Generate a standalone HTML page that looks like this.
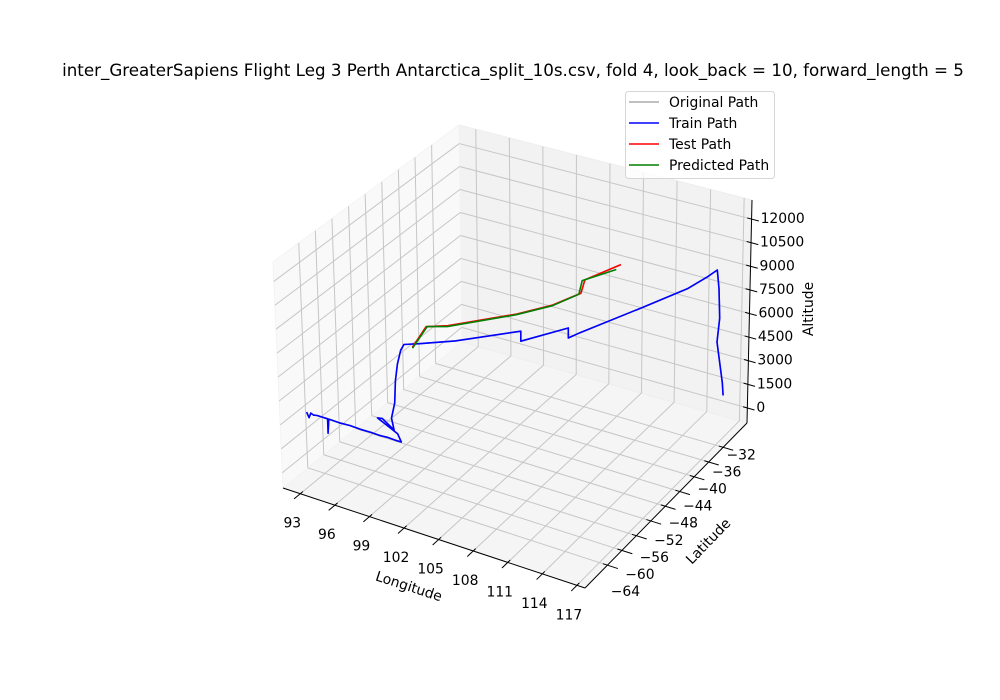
<!DOCTYPE html>
<html><head><meta charset="utf-8"><title>3D flight path</title>
<style>
html,body{margin:0;padding:0;background:#fff;}
svg{display:block;font-family:"DejaVu Sans","Liberation Sans",sans-serif;}
</style></head>
<body>
<svg id="chart" width="1000" height="700" viewBox="0 0 1000 700" xmlns="http://www.w3.org/2000/svg">
<rect width="1000" height="700" fill="#fff"/>
<text x="513" y="76" font-size="16.7" text-anchor="middle" fill="#000">inter_GreaterSapiens Flight Leg 3 Perth Antarctica_split_10s.csv, fold 4, look_back = 10, forward_length = 5</text>
<g id="panes"></g>
<g id="grid"></g>
<g id="axes"></g>
<g id="series"></g>
<g id="labels"></g>
<text x="409" y="591" font-size="13.9" text-anchor="middle" transform="rotate(18 409 586)">Longitude</text>
<text x="708" y="546" font-size="13.9" text-anchor="middle" transform="rotate(-46 708 541)">Latitude</text>
<text x="808" y="314" font-size="13.9" text-anchor="middle" transform="rotate(-90 808 309)">Altitude</text>
<g>
<rect x="625.5" y="91.5" width="149" height="87" rx="3" fill="#fff" fill-opacity="0.8" stroke="#d6d6d6"/>
<g><line x1="629" y1="102" x2="659" y2="102" stroke="#aaaaaa" stroke-width="1.5"/><text x="669" y="107" font-size="13.9">Original Path</text></g>
<g><line x1="629" y1="123" x2="659" y2="123" stroke="#0000ff" stroke-width="1.5"/><text x="669" y="128" font-size="13.9">Train Path</text></g>
<g><line x1="629" y1="144" x2="659" y2="144" stroke="#ff0000" stroke-width="1.5"/><text x="669" y="149" font-size="13.9">Test Path</text></g>
<g><line x1="629" y1="165" x2="659" y2="165" stroke="#008000" stroke-width="1.5"/><text x="669" y="170" font-size="13.9">Predicted Path</text></g>
</g>
</svg>
<script>
// ---- data ----
const lonTicks = [93, 96, 99, 102, 105, 108, 111, 114, 117];
const latTicks = [-64, -60, -56, -52, -48, -44, -40, -36, -32];
const altTicks = [0, 1500, 3000, 4500, 6000, 7500, 9000, 10500, 12000];
const lonRange = [91.5, 117.7];
const latRange = [-70.2, -25.4];
const altRange = [-956, 13212];

const trainLon = [93.4, 93.6, 93.8, 94.0, 94.3, 95.2, 95.2, 95.3, 96.2, 97.1, 98.0, 98.9, 99.6, 100.3, 101.0, 101.5,
  101.2, 99.5, 99.9, 100.9, 100.7, 101.0, 101.1, 101.3, 101.6, 101.85,
  102.74, 104.78, 108.22, 108.22, 110.34, 110.34, 110.73, 113.5, 115.5, 116.2, 116.5,
  116.55, 116.6, 116.5, 116.7, 116.7];
const trainLat = [-69.0, -69.0, -69.1, -69.0, -69.0, -69.0, -69.0, -69.0, -69.0, -69.0, -69.0, -69.0, -69.0, -69.0, -69.0, -69.0,
  -69.0, -69.0, -69.0, -69.0, -69.0, -69.0, -69.0, -69.0, -69.0, -68.9,
  -67.69, -64.64, -58.15, -58.15, -52.12, -52.12, -50.19, -42.5, -36.0, -32.5, -30.9,
  -30.5, -30.3, -30.6, -29.5, -29.2];
const trainAlt = [4000, 3700, 4050, 3950, 4000, 4000, 3100, 4000, 3980, 4020, 3990, 4000, 3980, 4020, 3990, 4000,
  4450, 5040, 5100, 4600, 5300, 6300, 7700, 8780, 9710, 10095,
  10095, 10095, 10095, 9472, 9472, 8848, 8848, 9300, 9500, 9650, 9760,
  8500, 6600, 5140, 2360, 1480];

const testLon = [102.92, 102.24, 103.53, 107.14, 108.90, 110.0, 110.2, 111.7];
const testLat = [-69.98, -64.42, -62.72, -55.82, -51.83, -47.76, -47.35, -42.38];
const testAlt = [10378, 10378, 10378, 10450, 10550, 10650, 11450, 11650];

const predLon = [102.9, 102.3, 103.5, 107.1, 108.9, 109.9, 110.05, 111.7];
const predLat = [-69.9, -64.3, -62.8, -55.9, -51.9, -48.0, -47.6, -43.59];
const predAlt = [10300, 10378, 10330, 10420, 10520, 10620, 11420, 11600];

// ---- projection (box corners on screen) ----
const B = {c00:[283,488], c10:[585,588], c11:[747,423], c01:[462,342]};
const T = {c00:[273,262], c10:[589,354], c11:[752,200], c01:[459,125]};
function bil(C,u,v){
  const x=(1-u)*(1-v)*C.c00[0]+u*(1-v)*C.c10[0]+u*v*C.c11[0]+(1-u)*v*C.c01[0];
  const y=(1-u)*(1-v)*C.c00[1]+u*(1-v)*C.c10[1]+u*v*C.c11[1]+(1-u)*v*C.c01[1];
  return [x,y];
}
function uOf(lon){return (lon-lonRange[0])/(lonRange[1]-lonRange[0]);}
function vOf(lat){return (lat-latRange[0])/(latRange[1]-latRange[0]);}
function wOf(alt){return (alt-altRange[0])/(altRange[1]-altRange[0]);}
function projUVW(u,v,w){const b=bil(B,u,v),t=bil(T,u,v);return [b[0]+(t[0]-b[0])*w,b[1]+(t[1]-b[1])*w];}
function proj(lon,lat,alt){return projUVW(uOf(lon),vOf(lat),wOf(alt));}

const NS='http://www.w3.org/2000/svg';
function mk(tag,attrs,parent){const e=document.createElementNS(NS,tag);for(const k in attrs)e.setAttribute(k,attrs[k]);parent.appendChild(e);return e;}
function ptsStr(arr){return arr.map(p=>p[0].toFixed(1)+','+p[1].toFixed(1)).join(' ');}

// panes
const panes=document.getElementById('panes');
const floorPane=mk('polygon',{points:ptsStr([projUVW(0,0,0),projUVW(1,0,0),projUVW(1,1,0),projUVW(0,1,0)]),fill:'#f5f5f5',stroke:'#f0f0f0'},panes);


const backPane=mk('polygon',{points:ptsStr([projUVW(0,1,0),projUVW(1,1,0),projUVW(1,1,1),projUVW(0,1,1)]),fill:'#f2f2f2',stroke:'#eeeeee'},panes);


const leftPane=mk('polygon',{points:ptsStr([projUVW(0,0,0),projUVW(0,1,0),projUVW(0,1,1),projUVW(0,0,1)]),fill:'#f9f9f9',stroke:'#f3f3f3'},panes);



// grid
const grid=document.getElementById('grid');
function gline(a,b,name){const l=mk('line',{x1:a[0],y1:a[1],x2:b[0],y2:b[1],stroke:'#c6c6c6','stroke-width':1},grid);}
lonTicks.forEach(t=>{const u=uOf(t);
  gline(projUVW(u,0,0),projUVW(u,1,0),'floor-grid-lon');
  gline(projUVW(u,1,0),projUVW(u,1,1),'back-grid-lon');});
latTicks.forEach(t=>{const v=vOf(t);
  gline(projUVW(0,v,0),projUVW(1,v,0),'floor-grid-lat');
  gline(projUVW(0,v,0),projUVW(0,v,1),'left-grid-lat');});
altTicks.forEach(t=>{const w=wOf(t);
  gline(projUVW(0,1,w),projUVW(1,1,w),'back-grid-alt');
  gline(projUVW(0,0,w),projUVW(0,1,w),'left-grid-alt');});

// axes lines + ticks
const axes=document.getElementById('axes');
function aline(a,b,name){const l=mk('line',{x1:a[0],y1:a[1],x2:b[0],y2:b[1],stroke:'#000','stroke-width':1},axes);}
aline(projUVW(0,0,0),projUVW(1,0,0),'x-axis-line');
aline(projUVW(1,0,0),projUVW(1,1,0),'y-axis-line');
aline(projUVW(1,1,0),projUVW(1,1,1),'z-axis-line');
const labels=document.getElementById('labels');
function tlabel(x,y,txt,anchor,name){const e=mk('text',{x:x,y:y,'font-size':13.9,'text-anchor':anchor,'dominant-baseline':'central'},labels);e.textContent=txt;}
function fmt(n){return n<0?'\u2212'+Math.abs(n):String(n);}
lonTicks.forEach(t=>{const u=uOf(t);
  aline(projUVW(u,0.015,0),projUVW(u,-0.035,0),'x-tick');
  const p=projUVW(u,0,0);tlabel(p[0]-8,p[1]+30,fmt(t),'middle','x-tick-label');});
latTicks.forEach((t,i)=>{const v=vOf(t);
  aline(projUVW(0.985,v,0),projUVW(1.035,v,0),'y-tick');
  const p=projUVW(1,v,0);const k=i/(latTicks.length-1);
  tlabel(p[0]+18,p[1]+27-19*k,fmt(t),'middle','y-tick-label');});
altTicks.forEach(t=>{const w=wOf(t);
  aline(projUVW(0.985,1,w),projUVW(1.025,1,w),'z-tick');
  const p=projUVW(1,1,w);tlabel(p[0]+9,p[1],fmt(t),'start','z-tick-label');});

// series
const series=document.getElementById('series');
function path(lons,lats,alts,color,name){
  const pts=lons.map((l,i)=>proj(l,lats[i],alts[i]));
  const e=mk('polyline',{points:ptsStr(pts),fill:'none',stroke:color,'stroke-width':1.6,'stroke-linejoin':'round'},series);
  
  
}
path(trainLon,trainLat,trainAlt,'#aaaaaa','original-path-train-part');
path(testLon,testLat,testAlt,'#aaaaaa','original-path-test-part');
path(trainLon,trainLat,trainAlt,'#0000ff','train-path');
path(testLon,testLat,testAlt,'#ff0000','test-path');
path(predLon,predLat,predAlt,'#008000','predicted-path');
</script>
</body></html>
